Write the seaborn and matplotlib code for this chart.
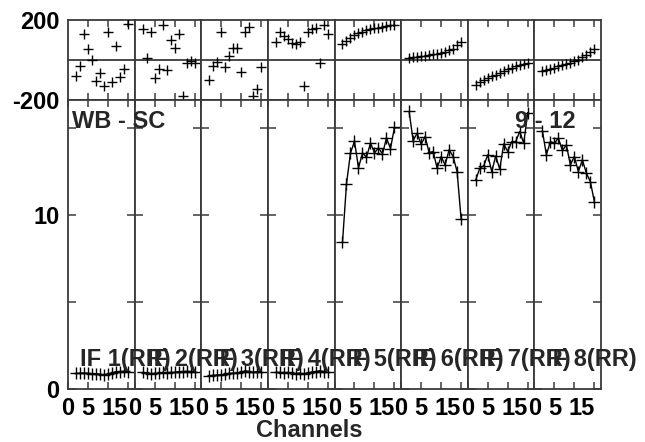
import matplotlib
matplotlib.use("Agg")
import matplotlib.pyplot as plt
import seaborn as sns
import pandas as pd

sns.set_style("white")
plt.rcParams['font.family'] = ['Liberation Sans', 'DejaVu Sans']
plt.rcParams['font.weight'] = 'bold'

channels = list(range(2, 16))

phase = {
    1: [-82, -32, 128, 53, -2, -105, -63, -132, 142, -110, 72, -85, -47, 178],
    2: [153, 12, 140, -92, -47, 173, -52, 98, 62, 128, -178, -15, -5, -15],
    3: [-102, -30, -12, 142, -35, 18, 62, 62, -60, 142, 165, -178, -145, -35],
    4: [92, 142, 120, 103, 87, 78, 92, -128, 138, 153, 158, -17, 175, 130],
    5: [78, 96, 112, 125, 135, 142, 148, 153, 158, 162, 166, 170, 173, 175],
    6: [12, 13, 15, 18, 22, 25, 28, 32, 37, 42, 50, 57, 73, 90],
    7: [-127, -112, -100, -90, -82, -73, -65, -56, -47, -39, -32, -24, -18, -13],
    8: [-55, -48, -43, -38, -32, -27, -18, -13, -5, 2, 15, 27, 40, 57],
}

amp = {
    1: [0.90, 0.90, 0.92, 0.90, 0.88, 0.88, 0.85, 0.80, 0.85, 0.92, 1.00, 1.00, 1.02, 0.98],
    2: [0.95, 0.90, 0.85, 0.90, 0.90, 0.95, 0.92, 0.95, 0.95, 1.00, 1.00, 1.02, 1.00, 0.98],
    3: [0.75, 0.78, 0.80, 0.80, 0.85, 0.90, 0.90, 0.92, 0.95, 1.05, 1.00, 0.95, 1.00, 0.98],
    4: [0.95, 0.95, 0.92, 0.95, 0.90, 0.88, 0.92, 0.85, 0.92, 0.98, 1.00, 1.05, 1.00, 0.95],
    5: [8.42, 11.79, 13.56, 14.23, 12.70, 13.56, 13.31, 14.13, 13.56, 13.85, 13.50, 14.42, 13.81, 15.03],
    6: [15.94, 14.27, 14.69, 14.06, 14.50, 13.58, 13.64, 12.68, 13.35, 12.87, 13.74, 13.35, 12.49, 9.75],
    7: [12.01, 12.68, 12.82, 13.45, 12.49, 13.39, 12.62, 14.08, 13.64, 14.21, 14.21, 14.79, 14.12, 15.88],
    8: [14.84, 13.45, 14.21, 14.12, 14.41, 13.70, 14.02, 12.87, 13.35, 12.49, 13.16, 12.40, 11.91, 10.76],
}

if_labels = ["IF 1(RR)", "IF 2(RR)", "IF 3(RR)", "IF 4(RR)",
             "IF 5(RR)", "IF 6(RR)", "IF 7(RR)", "IF 8(RR)"]
x_ticks = [0, 5, 10, 15]
x_ticklabels = ['0', '5', '', '15']

W, H = 645, 442
fig = plt.figure(figsize=(W / 100, H / 100), dpi=100)

left_px, right_px = 68, 601
top_px, mid_px, bot_px = 20, 100, 389
pw = (right_px - left_px) / 8
FS = 17
spine_col = '#3a3a3a'


def style(ax):
    for s in ax.spines.values():
        s.set_color(spine_col)
        s.set_linewidth(1.3)
        s.set_visible(True)


for k in range(8):
    idx = k + 1
    x0 = (left_px + k * pw) / W
    wfrac = pw / W
    # top (phase) panel
    axt = fig.add_axes([x0, 1 - mid_px / H, wfrac, (mid_px - top_px) / H])
    dft = pd.DataFrame({'ch': channels, 'ph': phase[idx]})
    sns.scatterplot(data=dft, x='ch', y='ph', ax=axt, marker='+', color='black',
                    s=55, linewidth=1.0, legend=False, zorder=3)
    axt.axhline(0, color=spine_col, lw=1.3, zorder=2)
    axt.set_xlim(0, 16.66)
    axt.set_ylim(-200, 200)
    axt.set_xlabel('')
    axt.set_ylabel('')
    axt.set_xticks([5, 10, 15])
    axt.set_xticklabels([])
    axt.tick_params(axis='x', which='both', direction='in', length=5, width=1.1,
                    top=True, bottom=True, colors=spine_col)
    if k == 0:
        axt.set_yticks([-200, 200])
        axt.set_yticklabels(['-200', '200'], fontsize=FS, fontweight='bold', color='black')
        axt.tick_params(axis='y', length=0, pad=6)
    else:
        axt.set_yticks([])
    style(axt)

    # bottom (amplitude) panel
    axb = fig.add_axes([x0, 1 - bot_px / H, wfrac, (bot_px - mid_px) / H])
    dfb = pd.DataFrame({'ch': channels, 'amp': amp[idx]})
    sns.lineplot(data=dfb, x='ch', y='amp', ax=axb, color='black', lw=1.0,
                 marker='+', markersize=8, markeredgewidth=1.0,
                 markeredgecolor='black', legend=False)
    axb.set_xlim(0, 16.66)
    axb.set_ylim(0, 16.6)
    axb.set_xlabel('')
    axb.set_ylabel('')
    axb.set_xticks(x_ticks)
    axb.set_xticklabels(x_ticklabels, fontsize=FS, fontweight='bold', color='black')
    for t in axb.get_xticklabels():
        if t.get_text() == '15':
            t.set_ha('right')
    axb.tick_params(axis='x', which='both', direction='in', length=5, width=1.1,
                    top=True, bottom=True, colors=spine_col, labelcolor='black', pad=6)
    axb.set_yticks([0, 5, 10, 15])
    if k == 0:
        axb.set_yticklabels(['0', '', '10', ''], fontsize=FS, fontweight='bold', color='black')
    else:
        axb.set_yticklabels([])
    axb.tick_params(axis='y', which='both', direction='in', length=6, width=1.1,
                    left=True, right=True, colors=spine_col, labelcolor='black', pad=6)
    style(axb)
    # IF label drawn as a figure-level text so the neighbouring panel does not hide it
    fig.text(3.0, 1.3, if_labels[k], fontsize=FS, fontweight='bold', ha='left',
             va='baseline', zorder=10, transform=axb.transData)

fig.text(72 / W, 1 - 128 / H, 'WB - SC', fontsize=FS, fontweight='bold',
         ha='left', va='baseline', zorder=10)
fig.text(576 / W, 1 - 128 / H, '9 - 12', fontsize=FS, fontweight='bold',
         ha='right', va='baseline', zorder=10)
fig.text(309 / W, 1 - 437 / H, 'Channels', fontsize=FS, fontweight='bold',
         ha='center', va='baseline')

fig.savefig('out.png', dpi=100)
